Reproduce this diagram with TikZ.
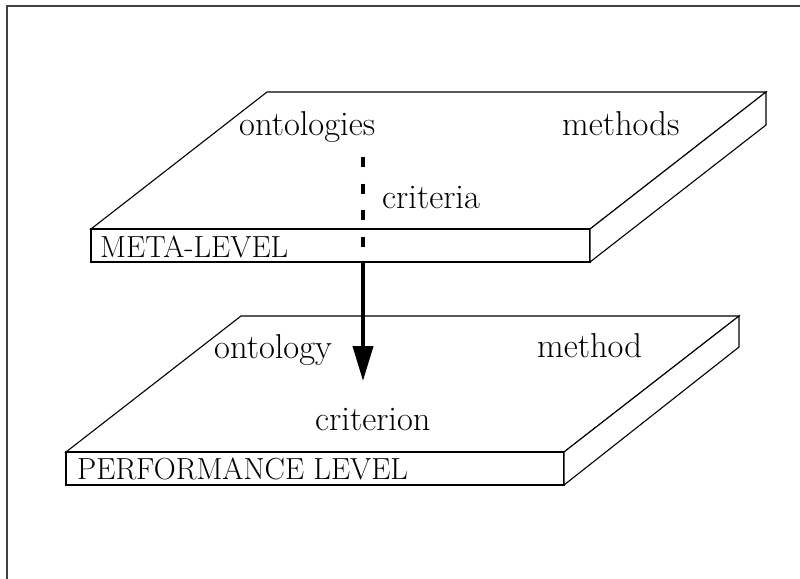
\documentclass[tikz,border=0pt]{standalone}
\usetikzlibrary{arrows.meta}
\begin{document}
\begin{tikzpicture}[x=1pt,y=-1pt,
  slab/.style={draw, line width=1.1pt, line join=miter, fill=white},
  word/.style={anchor=base west, inner sep=0pt, font=\fontsize{34.5}{34.5}\selectfont},
  lvl/.style={anchor=base west, inner sep=0pt, font=\fontsize{30.5}{30.5}\selectfont},
  frameline/.style={draw=black!75, line width=1.1pt}]
\useasboundingbox (0,0) rectangle (800,578);
% frame
\coordinate (fbl) at (7,580);
\coordinate (ftl) at (7,6);
\coordinate (ftr) at (802,6);
\draw[frameline] (fbl) -- (ftl) -- (ftr);
% meta-level slab
\coordinate (mA) at (91,229);
\coordinate (mB) at (267,92);
\coordinate (mC) at (766,92);
\coordinate (mD) at (590,229);
\coordinate (mE) at (590,262);
\coordinate (mF) at (91,262);
\coordinate (mG) at (766,125);
\path[slab] (mA) -- (mB) -- (mC) -- (mD) -- cycle;
\path[slab] (mA) -- (mD) -- (mE) -- (mF) -- cycle;
\path[slab] (mD) -- (mC) -- (mG) -- (mE) -- cycle;
% performance-level slab
\coordinate (pA) at (66,452);
\coordinate (pB) at (241,316);
\coordinate (pC) at (739,316);
\coordinate (pD) at (564,452);
\coordinate (pE) at (564,485);
\coordinate (pF) at (66,485);
\coordinate (pG) at (739,347);
\path[slab] (pA) -- (pB) -- (pC) -- (pD) -- cycle;
\path[slab] (pA) -- (pD) -- (pE) -- (pF) -- cycle;
\path[slab] (pD) -- (pC) -- (pG) -- (pE) -- cycle;
% texts
\node[word] (ontologies) at (239,135) {ontologies};
\node[word] (methods) at (562,135) {methods};
\node[word] (criteria) at (382,208) {criteria};
\node[lvl] (meta) at (100,257) {META-LEVEL};
\node[word] (ontology) at (214,358) {ontology};
\node[word] (method) at (537,357) {method};
\node[word] (criterion) at (315,430) {criterion};
\node[lvl] (perf) at (77,479) {PERFORMANCE LEVEL};
% arrow
\coordinate (aS) at (363,157);
\coordinate (aM) at (363,262);
\coordinate (aT) at (363,381);
\draw[line width=4pt, dash pattern=on 10pt off 16.7pt] (aS) -- (aM);
\draw[line width=4pt, -{Triangle[length=35pt,width=20pt]}] (aM) -- (aT);
\end{tikzpicture}
\end{document}
